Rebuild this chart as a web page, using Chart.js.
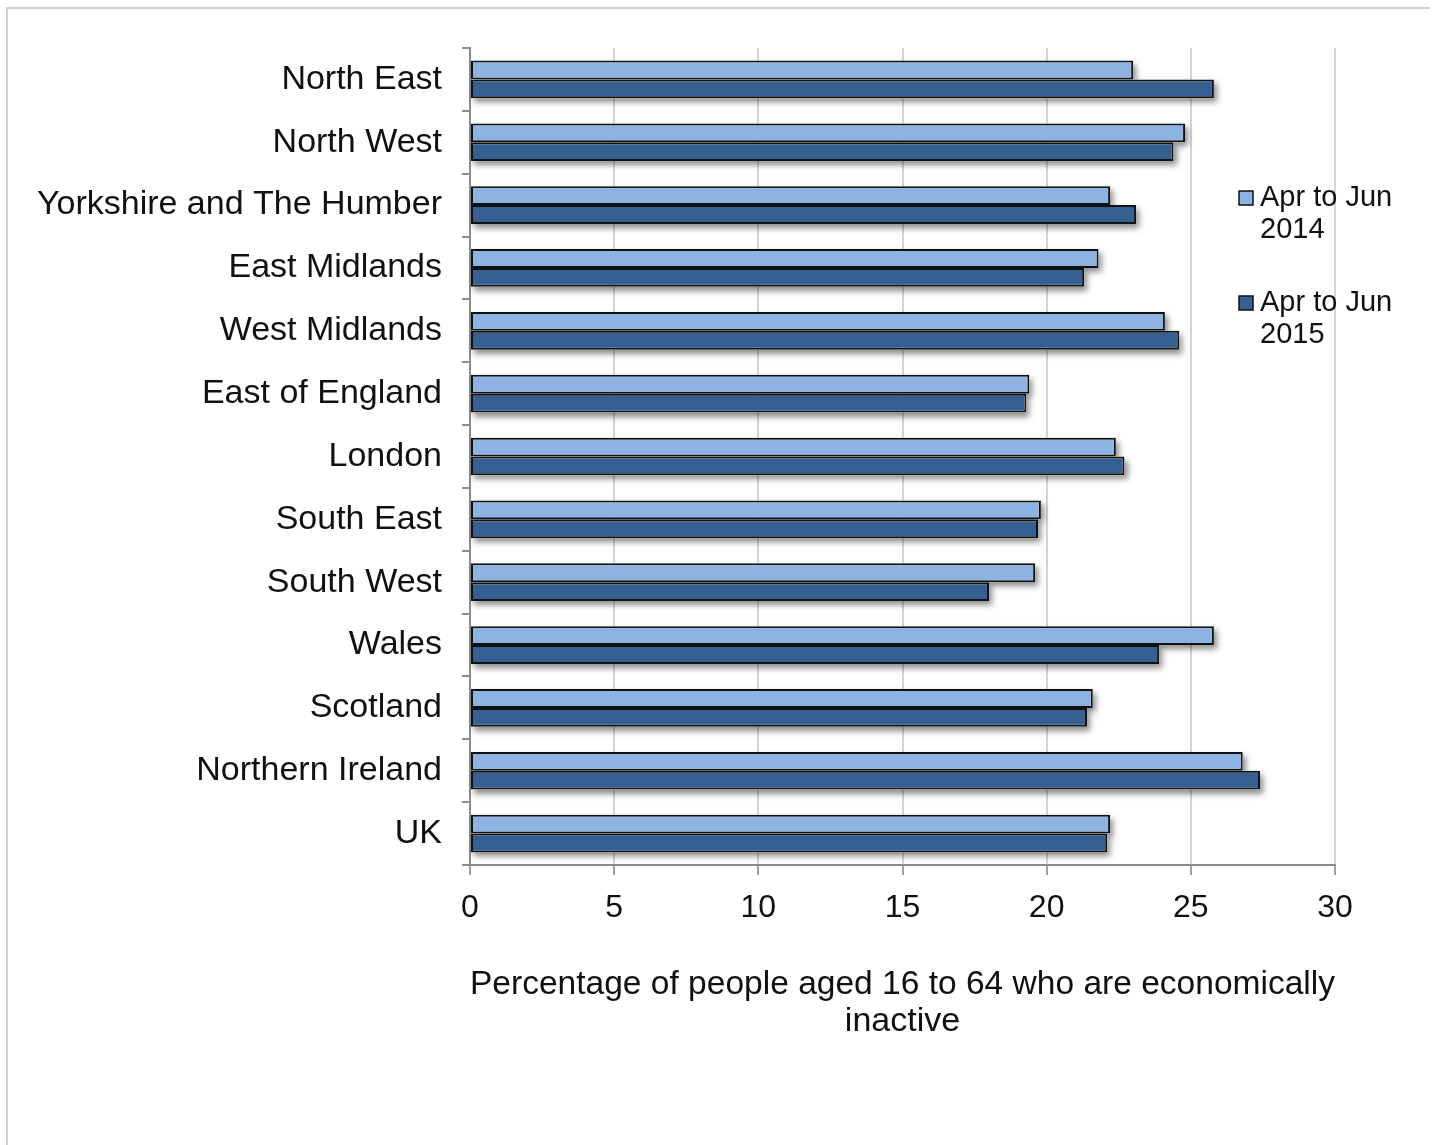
<!DOCTYPE html>
<html>
<head>
<meta charset="utf-8">
<script src="https://cdn.jsdelivr.net/npm/chart.js@4"></script>
<style>
  html, body { margin: 0; padding: 0; background: #fff; }
  #wrap { position: relative; width: 1434px; height: 1145px; }
  #frame {
    position: absolute; left: 6px; top: 7px; width: 1422px; height: 1145px;
    border-top: 2px solid #d0d0d0; border-left: 2px solid #d0d0d0;
  }
  canvas { position: absolute; left: 0; top: 0; }
</style>
</head>
<body>
<div id="wrap">
  <div id="frame"></div>
  <canvas id="chart" width="1434" height="1145"></canvas>
</div>
<script>
const regions = [
  "North East", "North West", "Yorkshire and The Humber", "East Midlands",
  "West Midlands", "East of England", "London", "South East", "South West",
  "Wales", "Scotland", "Northern Ireland", "UK"
]
const inactive2014 = [23.0, 24.8, 22.2, 21.8, 24.1, 19.4, 22.4, 19.8, 19.6, 25.8, 21.6, 26.8, 22.2]
const inactive2015 = [25.8, 24.4, 23.1, 21.3, 24.6, 19.3, 22.7, 19.7, 18.0, 23.9, 21.4, 27.4, 22.1]
const seriesNames = [["Apr to Jun", "2014"], ["Apr to Jun", "2015"]]
const xTicks = [0, 5, 10, 15, 20, 25, 30]

const lightBlue = "#8db3e2"
const darkBlue = "#366092"
const font = "'Liberation Sans', Arial, sans-serif"

// soft drop shadow under each bar, painted before the bars themselves
const barShadow = {
  id: "barShadow",
  beforeDatasetsDraw(chart) {
    const ctx = chart.ctx
    ctx.save()
    ctx.shadowColor = "rgba(0,0,0,0.45)"
    ctx.shadowBlur = 6
    ctx.shadowOffsetX = 3
    ctx.shadowOffsetY = 4
    ctx.fillStyle = "#fff"
    chart.data.datasets.forEach((ds, i) => {
      chart.getDatasetMeta(i).data.forEach(bar => {
        const left = Math.min(bar.base, bar.x)
        const w = Math.abs(bar.x - bar.base)
        ctx.fillRect(left, bar.y - bar.height / 2, w, bar.height)
      })
    })
    ctx.restore()
  }
}

// two-line legend drawn over the right side of the plot
const sideLegend = {
  id: "sideLegend",
  afterDraw(chart) {
    const ctx = chart.ctx
    const colors = [lightBlue, darkBlue]
    const x = 1239
    const tops = [198, 303]
    ctx.save()
    ctx.font = "29px " + font
    ctx.textBaseline = "middle"
    seriesNames.forEach((lines, i) => {
      const y = tops[i]
      ctx.fillStyle = colors[i]
      ctx.fillRect(x, y - 7, 14, 14)
      ctx.strokeStyle = "#111"
      ctx.lineWidth = 1.5
      ctx.strokeRect(x, y - 7, 14, 14)
      ctx.fillStyle = "#111"
      ctx.fillText(lines[0], 1260, y)
      ctx.fillText(lines[1], 1260, y + 32)
    })
    ctx.restore()
  }
}

new Chart(document.getElementById("chart"), {
  type: "bar",
  data: {
    labels: regions,
    datasets: [
      {
        label: seriesNames[0].join(" "),
        data: inactive2014,
        backgroundColor: lightBlue,
        borderColor: "#111",
        borderWidth: 2,
        borderSkipped: false
      },
      {
        label: seriesNames[1].join(" "),
        data: inactive2015,
        backgroundColor: darkBlue,
        borderColor: "#111",
        borderWidth: 2,
        borderSkipped: false
      }
    ]
  },
  plugins: [barShadow, sideLegend],
  options: {
    indexAxis: "y",
    responsive: false,
    animation: false,
    categoryPercentage: 0.6,
    barPercentage: 1.0,
    layout: { padding: { left: 0, top: 48, right: 99, bottom: 105 } },
    plugins: {
      legend: { display: false },
      tooltip: { enabled: false }
    },
    scales: {
      x: {
        min: 0,
        max: 30,
        afterBuildTicks(scale) {
          scale.ticks = xTicks.map(v => ({ value: v }))
        },
        afterFit(scale) { scale.height = 175 },
        grid: { color: "#d4d4d4", lineWidth: 2, tickLength: 10, tickColor: "#a0a0a0" },
        border: { color: "#8c8c8c", width: 2 },
        ticks: {
          color: "#111",
          padding: 14,
          font: { family: font, size: 32 }
        },
        title: {
          display: true,
          text: ["Percentage of people aged 16 to 64 who are economically", "inactive"],
          color: "#111",
          padding: 0,
          font: { family: font, size: 34, lineHeight: 1.09 }
        }
      },
      y: {
        afterFit(scale) { scale.width = 470 },
        grid: {
          offset: true,
          drawOnChartArea: false,
          color: "#8c8c8c",
          lineWidth: 2,
          tickLength: 8
        },
        border: { color: "#8c8c8c", width: 2 },
        ticks: {
          color: "#111",
          padding: 20,
          font: { family: font, size: 34 }
        }
      }
    }
  }
})
</script>
</body>
</html>
